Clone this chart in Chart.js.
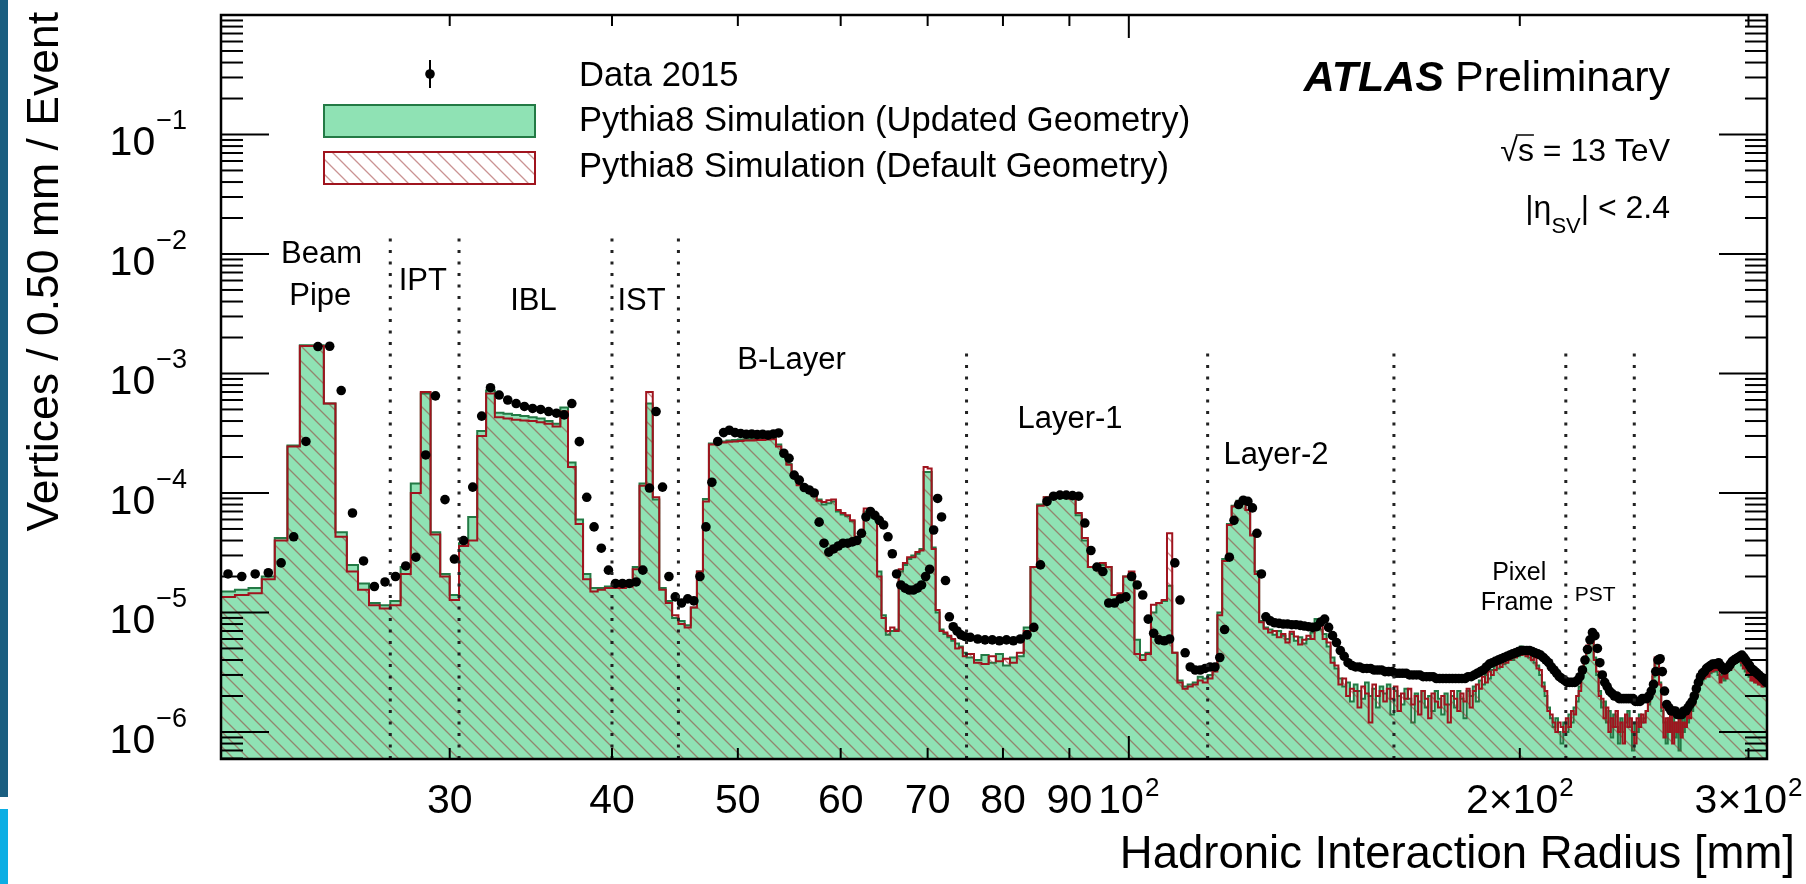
<!DOCTYPE html>
<html>
<head>
<meta charset="utf-8">
<script src="https://cdn.jsdelivr.net/npm/chart.js@4.4.0/dist/chart.umd.min.js"></script>
<style>
  html, body { margin: 0; padding: 0; background: #ffffff; }
  #wrap { position: relative; width: 1806px; height: 884px; overflow: hidden; }
  canvas { display: block; }
</style>
</head>
<body>
<div id="wrap"><canvas id="c" width="1806" height="884"></canvas></div>
<script>
// ------------------------------------------------------------------
// Data.  Values are in units of 1e-6
// (vertices / 0.50 mm / event).
// Fine binning: 0.5 mm bins from 20 mm to 75 mm.
// Coarse binning: 1 mm bins from 75 mm to 310 mm.
// ------------------------------------------------------------------
const UNIT = 1e-6;
const fineStart = 20, fineWidth = 0.5;
const coarseStart = 75, coarseWidth = 1;
const radiusMax = 310;

// Pythia8 Simulation (Updated Geometry)
const updatedFine = [
  15.5, 15, 15.5, 16, 20, 42, 250, 1720, 1720, 560,
  47, 25, 17.5, 12, 11.5, 12.5, 24, 120, 680, 47,
  21, 14, 38, 63, 330, 720, 470, 460, 450, 440,
  430, 420, 400, 380, 520, 180, 60, 21, 16, 16,
  16.5, 16.5, 16.5, 17, 24, 120, 560, 88, 16, 12.5,
  9, 8.5, 7.8, 11, 22, 89, 260, 265, 270, 275,
  278, 280, 282, 283, 285, 285, 286, 288, 255, 215,
  175, 140, 118, 108, 104, 95, 88, 80, 82, 85,
  70, 66, 64, 58, 42, 44, 70, 66, 62, 22,
  9.5, 6.5, 7, 7.2, 22, 25, 28, 30, 31, 34,
  150, 150, 35, 10, 7.2, 6.6, 6.2, 5.8, 5.5, 5.2
];
const updatedCoarse = [
  4.6, 4.2, 4.0, 4.4, 3.8, 4.5, 3.6, 4.2, 4.3, 7.5,
  24, 80, 92, 93, 94, 93, 90, 65, 40, 24,
  23, 25, 24, 14, 14, 20, 21, 5.9, 4.4, 4.6,
  10, 12, 12.5, 16.7, 4.6, 2.7, 2.4, 2.5, 2.6, 2.9,
  2.8, 3.0, 3.4, 10, 28, 55, 78, 86, 84, 72,
  45, 22, 8.5, 7.5, 7.2, 6.5, 7.0, 6.4, 6.0, 6.6,
  5.8, 6.2, 5.5, 6.0, 6.8, 8.8, 7.2, 6.6, 5.2, 4.2,
  3.4, 2.8, 2.4, 2.6, 1.8, 2.5, 2.2, 1.9, 2.6, 2.0,
  2.3, 1.6, 2.4, 2.1, 2.5, 1.4, 2.2, 2.0, 1.7, 2.3,
  1.9, 1.2, 2.1, 1.8, 2.2, 1.6, 2.0, 1.5, 2.2, 1.9,
  1.4, 2.1, 1.7, 2.0, 1.6, 2.2, 1.9, 1.3, 2.2, 2.0,
  2.4, 1.8, 2.7, 2.5, 3.0, 2.8, 3.3, 3.6, 3.4, 3.9,
  3.7, 4.1, 4.4, 4.0, 4.6, 4.3, 5.2, 4.5, 4.8, 4.2,
  4.4, 3.8, 3.6, 3.0, 2.6, 2.0, 1.6, 1.3, 1.1, 1.3,
  1.0, 0.8, 1.2, 1.0, 1.4, 1.2, 1.6, 1.8, 2.4, 3.0,
  4.0, 5.0, 6.2, 5.6, 4.2, 3.0, 2.2, 1.6, 1.8, 1.2,
  1.5, 0.9, 1.4, 1.1, 0.8, 1.3, 1.0, 1.2, 1.5, 1.1,
  0.7, 1.2, 1.0, 1.4, 1.2, 1.3, 1.5, 1.7, 2.1, 2.9,
  3.8, 4.1, 2.6, 1.5, 1.2, 0.8, 1.3, 1.0, 1.4, 0.9,
  1.2, 0.7, 1.3, 1.0, 1.4, 1.2, 1.6, 1.5, 1.9, 2.3,
  2.6, 2.9, 2.7, 3.2, 3.0, 3.4, 3.1, 3.5, 3.2, 3.6,
  3.0, 2.8, 3.1, 2.7, 3.2, 3.4, 3.8, 3.5, 4.0, 3.8,
  4.3, 4.0, 3.6, 3.8, 3.2, 3.4, 2.9, 3.1, 2.7, 3.0,
  2.6, 2.8, 2.5, 2.7, 2.4
];

// Pythia8 Simulation (Default Geometry)
const defaultFine = [
  13.5, 13.5, 14, 14.5, 19, 40, 245, 1700, 1700, 560,
  43, 22, 15.5, 11.5, 10.8, 11.5, 21, 100, 700, 45,
  20, 12.7, 36, 40, 300, 680, 430, 420, 410, 405,
  400, 390, 380, 360, 480, 165, 55, 19, 15, 15.5,
  16, 16, 16, 16.5, 23, 115, 700, 92, 15.5, 12,
  9.5, 8, 7.5, 11, 22, 85, 255, 260, 265, 268,
  270, 272, 275, 275, 278, 278, 280, 282, 245, 210,
  172, 140, 116, 108, 106, 96, 86, 84, 87, 88,
  72, 68, 65, 59, 43, 46, 74, 68, 64, 20,
  9, 7, 7.5, 7, 23, 26, 29, 29, 32, 33,
  165, 160, 34, 10.5, 7, 6.8, 6.4, 6.0, 5.0, 5.1
];
const defaultCoarse = [
  4.3, 4.5, 3.8, 3.7, 4.3, 3.9, 4.1, 3.8, 4.6, 7.0,
  24, 78, 92, 93, 93, 92, 90, 68, 42, 24,
  24, 26, 24, 14, 14.5, 20, 22, 4.5, 4.0, 4.5,
  11.6, 12, 12.7, 46, 4.6, 2.6, 2.3, 2.4, 2.5, 2.7,
  2.6, 2.8, 3.2, 9.5, 27, 54, 77, 85, 84, 72,
  44, 21, 8.3, 7.3, 6.8, 7.0, 6.2, 6.6, 5.6, 6.9,
  6.3, 5.4, 5.9, 6.4, 6.0, 8.0, 7.8, 6.0, 5.6, 3.8,
  3.6, 2.5, 2.8, 2.0, 2.3, 2.2, 1.6, 2.4, 2.1, 1.2,
  2.5, 2.0, 2.2, 1.8, 2.3, 1.9, 2.4, 1.5, 2.1, 1.9,
  2.3, 1.7, 2.0, 1.4, 2.2, 1.9, 1.3, 2.1, 1.8, 1.6,
  2.0, 1.7, 1.2, 2.2, 1.9, 1.5, 2.1, 1.8, 2.3, 1.6,
  2.2, 2.5, 2.3, 2.9, 2.6, 3.2, 3.0, 3.3, 3.8, 3.5,
  4.0, 3.8, 4.0, 4.5, 4.2, 4.7, 4.4, 4.9, 4.3, 4.6,
  4.0, 4.2, 3.4, 3.3, 2.4, 2.2, 1.5, 1.4, 1.2, 1.0,
  1.2, 1.1, 1.0, 1.3, 1.1, 1.5, 1.4, 2.0, 2.2, 3.2,
  3.8, 5.3, 6.0, 5.8, 4.0, 3.2, 2.0, 1.9, 1.3, 1.6,
  1.0, 1.3, 1.1, 1.5, 1.0, 1.2, 0.8, 1.4, 1.1, 1.3,
  1.0, 0.8, 1.3, 1.1, 1.4, 1.2, 1.5, 1.8, 2.2, 3.0,
  4.2, 3.9, 2.5, 1.6, 0.9, 1.3, 1.0, 1.4, 0.8, 1.2,
  1.0, 1.3, 0.9, 1.2, 1.1, 1.5, 1.3, 1.8, 1.7, 2.1,
  2.8, 2.5, 3.1, 2.8, 3.3, 2.9, 3.5, 3.2, 3.6, 3.3,
  3.4, 2.6, 2.9, 3.0, 2.8, 3.6, 3.3, 3.9, 3.7, 4.2,
  3.9, 4.4, 3.8, 3.4, 3.5, 3.0, 3.2, 2.7, 3.0, 2.6,
  2.9, 2.5, 2.7, 2.4, 2.6
];

// Data 2015
const dataFine = [
  21, 20, 21, 21.5, 26, 43, 270, 1680, 1690, 720,
  68, 27, 16.5, 18, 20, 24.5, 29, 208, 650, 88,
  28, 40, 112, 440, 760, 660, 600, 560, 530, 510,
  500, 480, 465, 450, 560, 269, 92, 52, 34.5, 22.6,
  17.5, 17.5, 17.5, 18, 22.6, 110, 480, 112, 20, 13.5,
  12, 13, 12.5, 20, 52, 123, 270, 320, 335, 320,
  315, 310, 312, 308, 310, 305, 312, 318, 215, 195,
  141, 128, 111, 106, 100, 57, 38, 32, 34, 36,
  38, 38, 39, 40, 46, 63, 70, 65, 59, 54,
  43, 31, 21, 17, 16, 15.4, 15.4, 16, 17, 20,
  23, 49, 90, 63, 18.5, 9.2, 7.6, 7, 6.5, 6.3
];
const dataCoarse = [
  6.2, 6.0, 5.9, 5.9, 5.8, 5.9, 5.8, 6.0, 6.5, 7.5,
  25, 85, 94, 96, 96, 95, 94, 56, 33, 24,
  22, 12, 12, 13, 13.5, 20, 17, 14, 8.8, 6.7,
  5.9, 5.8, 6, 26, 12.7, 4.6, 3.5, 3.3, 3.3, 3.4,
  3.5, 3.5, 4.2, 7.2, 29, 59, 80, 87, 85, 75,
  46, 21, 9.2, 8.5, 8.2, 8.1, 8.0, 8.0, 7.9, 7.9,
  7.8, 7.7, 7.6, 7.5, 7.6, 8.3, 8.8, 7.5, 6.4, 5.6,
  4.8, 4.3, 3.8, 3.6, 3.5, 3.5, 3.4, 3.4, 3.4, 3.3,
  3.3, 3.3, 3.2, 3.2, 3.2, 3.1, 3.1, 3.1, 3.1, 3.0,
  3.0, 3.0, 3.0, 2.9, 2.9, 2.9, 2.9, 2.8, 2.8, 2.8,
  2.8, 2.8, 2.8, 2.8, 2.8, 2.8, 2.8, 2.9, 2.9, 3.0,
  3.1, 3.2, 3.3, 3.5, 3.7, 3.8, 3.9, 4.0, 4.1, 4.2,
  4.3, 4.4, 4.5, 4.6, 4.7, 4.8, 4.8, 4.8, 4.8, 4.7,
  4.6, 4.5, 4.4, 4.2, 4.0, 3.8, 3.5, 3.3, 3.1, 2.9,
  2.8, 2.7, 2.6, 2.6, 2.6, 2.6, 2.7, 2.9, 3.3, 4.0,
  4.9, 5.9, 6.8, 6.4, 5.0, 3.8, 3.0, 2.6, 2.4, 2.2,
  2.1, 2.0, 2.0, 1.9, 1.9, 1.9, 1.9, 1.9, 1.9, 1.9,
  1.8, 1.8, 1.8, 1.9, 1.9, 1.9, 2.0, 2.2, 2.5, 3.2,
  4.0, 4.1, 3.2, 2.2, 1.7, 1.6, 1.5, 1.5, 1.5, 1.4,
  1.4, 1.4, 1.5, 1.5, 1.6, 1.7, 1.8, 2.0, 2.3, 2.6,
  2.9, 3.1, 3.2, 3.4, 3.5, 3.6, 3.7, 3.7, 3.7, 3.8,
  3.6, 3.4, 3.3, 3.4, 3.5, 3.7, 3.9, 4.0, 4.1, 4.2,
  4.3, 4.4, 4.2, 4.0, 3.8, 3.6, 3.4, 3.3, 3.2, 3.1,
  3.0, 2.9, 2.8, 2.7, 2.6
];

// Axis ticks and labels
const xTickValues = [30, 40, 50, 60, 70, 80, 90, 100, 200, 300];
const xTickLabels = ['30', '40', '50', '60', '70', '80', '90', '10^2', '2\u00d710^2', '3\u00d710^2'];
const yTickValues = [1e-6, 1e-5, 1e-4, 1e-3, 1e-2, 1e-1];
const yTickLabels = ['10^\u22126', '10^\u22125', '10^\u22124', '10^\u22123', '10^\u22122', '10^\u22121'];

// Detector region boundaries (mm) and region names
const regionBoundaries = [27, 30.5, 40, 45, 75, 115, 160, 217, 245];
const regionNames = ['Beam', 'Pipe', 'IPT', 'IBL', 'IST', 'B-Layer', 'Layer-1', 'Layer-2', 'Pixel', 'Frame', 'PST'];

// ------------------------------------------------------------------
// Build the binned series
// ------------------------------------------------------------------
const binLo = [];
updatedFine.forEach((_, i) => binLo.push(fineStart + i * fineWidth));
updatedCoarse.forEach((_, i) => binLo.push(coarseStart + i * coarseWidth));
const binHi = binLo.map((v, i) => (i + 1 < binLo.length ? binLo[i + 1] : radiusMax));

const updatedVals = updatedFine.concat(updatedCoarse);
const defaultVals = defaultFine.concat(defaultCoarse);
const dataVals = dataFine.concat(dataCoarse);

function stepPoints(vals) {
  const pts = vals.map((v, i) => ({ x: binLo[i], y: v * UNIT }));
  pts.push({ x: radiusMax, y: vals[vals.length - 1] * UNIT });
  return pts;
}
const dataPoints = dataVals.map((v, i) => ({ x: (binLo[i] + binHi[i]) / 2, y: v * UNIT }));

// ------------------------------------------------------------------
// Styles
// ------------------------------------------------------------------
const FONT = "'Liberation Sans', Arial, Helvetica, sans-serif";
const GREEN_FILL = '#8fe2b4';
const GREEN_LINE = '#237a45';
const RED_LINE = '#a0141e';

const canvas = document.getElementById('c');
const ctx = canvas.getContext('2d');

const pc = document.createElement('canvas');
pc.width = 15; pc.height = 15;
const pctx = pc.getContext('2d');
pctx.strokeStyle = 'rgba(150,40,40,0.5)';
pctx.lineWidth = 1.3;
pctx.beginPath();
pctx.moveTo(-3, -3); pctx.lineTo(18, 18);
pctx.moveTo(-3, 12); pctx.lineTo(3, 18);
pctx.moveTo(12, -3); pctx.lineTo(18, 3);
pctx.stroke();
const hatch = ctx.createPattern(pc, 'repeat');

function txt(c, s, x, y, size, o) {
  o = o || {};
  c.font = (o.style || '') + ' ' + (o.weight || '') + ' ' + size + 'px ' + FONT;
  c.textAlign = o.align || 'left';
  c.textBaseline = 'alphabetic';
  c.fillStyle = o.color || '#000';
  c.fillText(s, x, y);
  return c.measureText(s).width;
}
function textWidth(c, s, size, o) {
  o = o || {};
  c.font = (o.style || '') + ' ' + (o.weight || '') + ' ' + size + 'px ' + FONT;
  return c.measureText(s).width;
}
function line(c, x1, y1, x2, y2) {
  c.beginPath(); c.moveTo(x1, y1); c.lineTo(x2, y2); c.stroke();
}

const decor = {
  id: 'decor',
  beforeDraw(chart) {
    const c = chart.ctx;
    c.save();
    c.fillStyle = '#ffffff';
    c.fillRect(0, 0, chart.width, chart.height);
    c.fillStyle = '#1a5e80';
    c.fillRect(0, 0, 8, 797);
    c.fillStyle = '#0baee4';
    c.fillRect(0, 809, 8, 75);
    c.restore();
  },
  afterDatasetsDraw(chart) {
    const c = chart.ctx;
    const xs = chart.scales.x, ys = chart.scales.y;
    const { left, right, top, bottom } = chart.chartArea;
    c.save();

    // region boundaries (dotted)
    c.strokeStyle = '#222';
    c.lineWidth = 3;
    c.setLineDash([3, 8.5]);
    regionBoundaries.forEach((r, i) => {
      const x = xs.getPixelForValue(r);
      const yTop = ys.getPixelForValue(i < 4 ? 1.54e-2 : 1.52e-3);
      line(c, x, bottom, x, yTop);
    });
    c.setLineDash([]);

    // frame
    c.strokeStyle = '#000';
    c.lineWidth = 2.5;
    c.strokeRect(left, top, right - left, bottom - top);

    // y ticks (major + minor), both sides
    c.lineWidth = 2;
    for (let e = -7; e <= 0; e++) {
      for (let k = 1; k <= 9; k++) {
        const v = k * Math.pow(10, e);
        if (v < ys.min * 0.999 || v > ys.max * 1.001) continue;
        const y = ys.getPixelForValue(v);
        const L = k === 1 ? 48 : 22;
        line(c, left, y, left + L, y);
        line(c, right, y, right - L, y);
      }
    }
    // x ticks, bottom and top
    xTickValues.forEach(v => {
      const x = xs.getPixelForValue(v);
      const L = v === 100 ? 23 : 11;
      line(c, x, bottom, x, bottom - L);
      line(c, x, top, x, top + L);
    });

    // x tick labels
    xTickValues.forEach((v, i) => {
      const parts = xTickLabels[i].split('^');
      const wb = textWidth(c, parts[0], 41);
      const we = parts[1] ? textWidth(c, parts[1], 26) + 1 : 0;
      const x0 = xs.getPixelForValue(v) - (wb + we) / 2;
      const yb = bottom + 54;
      txt(c, parts[0], x0, yb, 41);
      if (parts[1]) txt(c, parts[1], x0 + wb + 1, yb - 17, 26);
    });
    // y tick labels
    yTickValues.forEach((v, i) => {
      const parts = yTickLabels[i].split('^');
      const y = ys.getPixelForValue(v);
      const xr = left - 34;
      const we = textWidth(c, parts[1], 27);
      txt(c, parts[1], xr, y - 5, 27, { align: 'right' });
      txt(c, parts[0], xr - we - 1, y + 21, 41, { align: 'right' });
    });

    // axis titles
    txt(c, 'Hadronic Interaction Radius [mm]', 1795, 868, 45.5, { align: 'right' });
    c.save();
    c.translate(58, 12);
    c.rotate(-Math.PI / 2);
    txt(c, 'Vertices / 0.50 mm / Event', 0, 0, 44.5, { align: 'right' });
    c.restore();

    // region labels (placed in data coordinates)
    const lab = (s, r, v, size) => txt(c, s, xs.getPixelForValue(r), ys.getPixelForValue(v), size, { align: 'center' });
    lab(regionNames[0], 23.9, 8.45e-3, 31);
    lab(regionNames[1], 23.85, 3.76e-3, 31);
    lab(regionNames[2], 28.6, 5.0e-3, 31);
    lab(regionNames[3], 34.8, 3.41e-3, 31);
    lab(regionNames[4], 42.15, 3.41e-3, 31);
    lab(regionNames[5], 55.0, 1.09e-3, 31);
    lab(regionNames[6], 90.1, 3.5e-4, 31);
    lab(regionNames[7], 129.8, 1.75e-4, 31);
    lab(regionNames[8], 199.8, 1.86e-5, 25);
    lab(regionNames[9], 199.0, 1.04e-5, 25);
    lab(regionNames[10], 228.6, 1.24e-5, 21);

    // legend
    c.fillStyle = '#000';
    c.strokeStyle = '#000';
    c.lineWidth = 2;
    line(c, 430, 60, 430, 88);
    c.beginPath(); c.arc(430, 74, 4.8, 0, Math.PI * 2); c.fill();
    c.fillStyle = GREEN_FILL;
    c.fillRect(324, 105, 211, 32);
    c.strokeStyle = GREEN_LINE;
    c.strokeRect(324, 105, 211, 32);
    c.fillStyle = '#fff';
    c.fillRect(324, 152, 211, 32);
    c.fillStyle = hatch;
    c.fillRect(324, 152, 211, 32);
    c.strokeStyle = RED_LINE;
    c.strokeRect(324, 152, 211, 32);
    txt(c, 'Data 2015', 579, 86, 34.6);
    txt(c, 'Pythia8 Simulation (Updated Geometry)', 579, 131, 34.6);
    txt(c, 'Pythia8 Simulation (Default Geometry)', 579, 177, 34.6);

    // ATLAS label
    const wPre = textWidth(c, 'Preliminary', 43);
    txt(c, 'Preliminary', 1670, 91, 43, { align: 'right' });
    txt(c, 'ATLAS', 1670 - wPre - 11, 91, 43, { align: 'right', style: 'italic', weight: 'bold' });

    // sqrt(s) = 13 TeV
    const wRest = textWidth(c, ' = 13 TeV', 32);
    const wS = textWidth(c, 's', 32);
    const wRoot = textWidth(c, '\u221a', 32);
    const x0 = 1670 - wRest - wS - wRoot;
    txt(c, '\u221a', x0, 161, 32);
    txt(c, 's', x0 + wRoot, 161, 32);
    txt(c, ' = 13 TeV', x0 + wRoot + wS, 161, 32);
    c.strokeStyle = '#000'; c.lineWidth = 1.5;
    line(c, x0 + wRoot - 2, 135, x0 + wRoot + wS, 135);

    // |eta_SV| < 2.4
    const wTail = textWidth(c, '| < 2.4', 32);
    const wSub = textWidth(c, 'SV', 22);
    const wEta = textWidth(c, '|\u03b7', 32);
    const e0 = 1670 - wTail - wSub - wEta;
    txt(c, '|\u03b7', e0, 218, 32);
    txt(c, 'SV', e0 + wEta, 233, 22);
    txt(c, '| < 2.4', e0 + wEta + wSub, 218, 32);

    c.restore();
  }
};

new Chart(ctx, {
  type: 'line',
  data: {
    datasets: [
      {
        label: 'Data 2015',
        type: 'scatter',
        data: dataPoints,
        showLine: false,
        pointRadius: 4.8,
        pointHoverRadius: 4.8,
        pointBackgroundColor: '#000',
        pointBorderWidth: 0,
        borderColor: '#000',
        order: 0
      },
      {
        label: 'Pythia8 Simulation (Default Geometry)',
        data: stepPoints(defaultVals),
        stepped: 'after',
        borderColor: RED_LINE,
        borderWidth: 2,
        backgroundColor: hatch,
        fill: 'start',
        pointRadius: 0,
        order: 1
      },
      {
        label: 'Pythia8 Simulation (Updated Geometry)',
        data: stepPoints(updatedVals),
        stepped: 'after',
        borderColor: GREEN_LINE,
        borderWidth: 2,
        backgroundColor: GREEN_FILL,
        fill: 'start',
        pointRadius: 0,
        order: 2
      }
    ]
  },
  options: {
    responsive: false,
    animation: false,
    events: [],
    layout: { padding: { left: 221, right: 39, top: 15, bottom: 125 } },
    plugins: { legend: { display: false }, tooltip: { enabled: false } },
    scales: {
      x: { type: 'logarithmic', min: 20, max: radiusMax, display: false },
      y: { type: 'logarithmic', min: 5.94e-7, max: 1, display: false }
    }
  },
  plugins: [decor]
});
</script>
</body>
</html>
